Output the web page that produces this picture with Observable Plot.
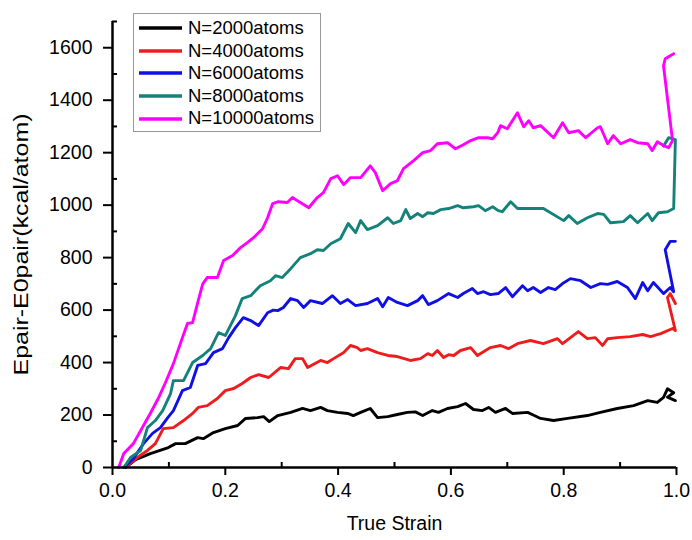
<!DOCTYPE html>
<html>
<head>
<meta charset="utf-8">
<script src="https://cdn.jsdelivr.net/npm/d3@7"></script>
<script src="https://cdn.jsdelivr.net/npm/@observablehq/plot@0.6"></script>
<style>
  html, body { margin: 0; padding: 0; background: #fff; }
  #wrap { position: relative; width: 692px; height: 540px; font-family: "Liberation Sans", Arial, sans-serif; }
  #legend { position: absolute; left: 133px; top: 13px; width: 188px; height: 119px; border: 1px solid #999; background: #fff; box-sizing: border-box; padding-top: 3px; }
  .row { display: flex; align-items: center; height: 22.6px; }
  .row svg { margin-left: 5px; margin-right: 6px; }
  .row span { font-size: 18.5px; color: #000; line-height: 1; }
</style>
</head>
<body>
<div id="wrap"><div id="legend"></div></div>
<script>
const seriesNames = ["N=2000atoms", "N=4000atoms", "N=6000atoms", "N=8000atoms", "N=10000atoms"];
const seriesColors = ["#000000", "#ee1c1c", "#1010e6", "#13837a", "#ff00ff"];

const n2000 = [[0.023,0],[0.041,30],[0.067,53],[0.099,76],[0.112,91],[0.129,91],[0.151,114],[0.161,110],[0.179,133],[0.200,148],[0.222,160],[0.236,187],[0.257,190],[0.268,194],[0.278,175],[0.293,198],[0.316,210],[0.337,225],[0.351,217],[0.369,229],[0.381,217],[0.399,210],[0.417,206],[0.427,198],[0.440,210],[0.457,225],[0.470,190],[0.488,194],[0.505,202],[0.523,210],[0.537,212],[0.550,198],[0.567,217],[0.578,210],[0.594,225],[0.612,232],[0.626,244],[0.640,221],[0.656,217],[0.667,229],[0.679,210],[0.697,225],[0.709,206],[0.736,210],[0.746,200],[0.759,187],[0.782,179],[0.807,187],[0.842,198],[0.865,210],[0.895,225],[0.924,236],[0.949,255],[0.966,248],[0.977,267],[0.984,300],[0.995,285],[0.984,268],[0.998,255]];

const n4000 = [[0.023,0],[0.044,38],[0.062,65],[0.076,91],[0.090,148],[0.108,152],[0.126,179],[0.142,206],[0.152,229],[0.168,236],[0.186,263],[0.200,293],[0.215,301],[0.230,320],[0.245,343],[0.259,354],[0.277,343],[0.298,381],[0.312,377],[0.324,415],[0.337,415],[0.346,381],[0.369,408],[0.381,400],[0.392,415],[0.410,438],[0.422,465],[0.434,457],[0.440,446],[0.452,453],[0.470,438],[0.488,427],[0.505,423],[0.528,408],[0.546,415],[0.559,434],[0.567,427],[0.576,446],[0.587,419],[0.596,430],[0.605,427],[0.617,446],[0.635,457],[0.647,427],[0.670,457],[0.688,465],[0.702,453],[0.718,472],[0.741,484],[0.764,472],[0.789,491],[0.798,472],[0.812,495],[0.826,518],[0.842,491],[0.856,495],[0.869,465],[0.878,491],[0.895,495],[0.918,499],[0.940,507],[0.954,499],[0.972,510],[0.993,530],[0.998,522],[0.984,648],[0.989,663],[0.998,625]];

const n6000 = [[0.020,0],[0.037,34],[0.055,91],[0.071,130],[0.085,152],[0.098,190],[0.108,217],[0.124,293],[0.138,305],[0.151,389],[0.165,396],[0.179,438],[0.195,453],[0.206,495],[0.218,533],[0.232,571],[0.245,560],[0.259,541],[0.275,590],[0.285,600],[0.293,598],[0.303,610],[0.316,644],[0.328,636],[0.339,610],[0.351,636],[0.372,625],[0.390,655],[0.404,625],[0.417,640],[0.431,617],[0.452,625],[0.470,644],[0.479,613],[0.489,648],[0.505,629],[0.523,617],[0.541,636],[0.550,655],[0.560,621],[0.576,636],[0.596,663],[0.612,648],[0.622,663],[0.638,682],[0.647,663],[0.658,670],[0.670,659],[0.684,663],[0.697,686],[0.709,651],[0.727,693],[0.736,674],[0.746,686],[0.759,667],[0.773,686],[0.785,678],[0.798,701],[0.812,720],[0.830,712],[0.848,686],[0.865,701],[0.878,698],[0.895,709],[0.913,686],[0.927,644],[0.940,705],[0.949,674],[0.959,705],[0.977,663],[0.989,686],[0.995,670],[0.980,830],[0.989,862],[0.998,862]];

const n8000 = [[0.020,0],[0.032,38],[0.050,65],[0.062,152],[0.076,179],[0.089,217],[0.103,282],[0.108,331],[0.126,331],[0.142,400],[0.160,427],[0.174,453],[0.188,514],[0.200,503],[0.218,579],[0.230,644],[0.245,655],[0.262,693],[0.280,712],[0.289,731],[0.301,724],[0.316,758],[0.333,800],[0.351,815],[0.363,830],[0.374,827],[0.387,853],[0.404,872],[0.418,930],[0.431,895],[0.440,941],[0.452,907],[0.470,922],[0.488,952],[0.498,930],[0.511,941],[0.520,983],[0.528,949],[0.541,968],[0.550,956],[0.559,971],[0.569,968],[0.582,983],[0.596,987],[0.612,998],[0.622,990],[0.640,994],[0.649,998],[0.661,979],[0.674,994],[0.684,979],[0.691,975],[0.706,1013],[0.718,987],[0.741,987],[0.764,987],[0.800,941],[0.809,960],[0.824,930],[0.842,952],[0.860,968],[0.871,965],[0.883,933],[0.906,937],[0.918,960],[0.931,933],[0.949,968],[0.957,941],[0.968,971],[0.984,975],[0.995,987],[0.998,1250],[0.986,1257],[0.977,1225]];

const n10000 = [[0.011,0],[0.020,53],[0.037,91],[0.055,160],[0.067,206],[0.082,267],[0.094,324],[0.108,396],[0.124,495],[0.133,549],[0.142,552],[0.152,636],[0.160,700],[0.168,724],[0.186,724],[0.197,789],[0.213,808],[0.227,838],[0.239,857],[0.250,876],[0.266,910],[0.275,952],[0.284,1006],[0.294,1013],[0.310,1010],[0.319,1029],[0.333,1010],[0.348,990],[0.363,1029],[0.374,1048],[0.387,1101],[0.399,1112],[0.410,1078],[0.422,1105],[0.440,1105],[0.457,1150],[0.466,1124],[0.479,1055],[0.493,1082],[0.505,1093],[0.516,1139],[0.534,1170],[0.550,1200],[0.564,1208],[0.576,1234],[0.594,1238],[0.608,1215],[0.622,1230],[0.635,1246],[0.649,1257],[0.665,1257],[0.674,1253],[0.683,1276],[0.688,1303],[0.700,1291],[0.718,1352],[0.729,1299],[0.738,1322],[0.746,1295],[0.759,1303],[0.782,1257],[0.798,1314],[0.809,1276],[0.826,1284],[0.839,1257],[0.860,1295],[0.865,1299],[0.878,1234],[0.888,1265],[0.901,1234],[0.918,1250],[0.931,1238],[0.949,1234],[0.957,1208],[0.966,1242],[0.977,1227],[0.986,1219],[0.993,1246],[0.977,1531],[0.980,1558],[0.995,1577]];

const majorX = [0, 0.2, 0.4, 0.6, 0.8, 1.0];
const minorX = [0.1, 0.3, 0.5, 0.7, 0.9];
const majorY = [0, 200, 400, 600, 800, 1000, 1200, 1400, 1600];
const minorY = [100, 300, 500, 700, 900, 1100, 1300, 1500, 1700];
const xLabel = "True Strain";
const yLabel = "Epair-E0pair(kcal/atom)";

const allSeries = [n2000, n4000, n6000, n8000, n10000];
const rows = allSeries.flatMap((s, i) => s.map(([x, y], j) => ({series: seriesNames[i], x, y, j})));

const font = "'Liberation Sans', Arial, sans-serif";

const chart = Plot.plot({
  width: 692,
  height: 540,
  marginLeft: 112,
  marginRight: 16,
  marginTop: 21,
  marginBottom: 73,
  style: {fontFamily: font, fontSize: "19.5px", color: "#000", background: "#fff"},
  x: {domain: [0, 1]},
  y: {domain: [0, 1700]},
  color: {domain: seriesNames, range: seriesColors},
  marks: [
    Plot.line(rows, {x: "x", y: "y", z: "series", stroke: "series", strokeWidth: 2.9, strokeLinejoin: "round", strokeLinecap: "round"}),
    Plot.axisX({ticks: majorX, tickSize: 8, strokeWidth: 2, tickPadding: 8, tickFormat: d3.format(".1f"), fontSize: 19.5, label: xLabel, labelAnchor: "center", labelOffset: 62, labelArrow: "none"}),
    Plot.axisX({ticks: minorX, tickSize: 5, strokeWidth: 2, dy: -5, tickFormat: () => "", label: null}),
    Plot.axisY({ticks: majorY, tickSize: 9, strokeWidth: 2, tickPadding: 11, tickFormat: d3.format("d"), fontSize: 19.5, label: yLabel, labelAnchor: "center", labelOffset: 99, labelArrow: "none"}),
    Plot.axisY({ticks: minorY, tickSize: 5, strokeWidth: 2, dx: 5, tickFormat: () => "", label: null}),
    Plot.ruleY([0], {stroke: "#000", strokeWidth: 2.5}),
    Plot.ruleX([0], {stroke: "#000", strokeWidth: 2.5})
  ]
});

const wrap = document.getElementById("wrap");
wrap.insertBefore(chart, wrap.firstChild);

// Size the y-axis title to the reference's length (text stays real text)
d3.select(chart).selectAll("text").each(function() {
  if (this.textContent === yLabel) {
    this.setAttribute("font-size", 21);
    this.style.fontSize = "21px";
    this.setAttribute("textLength", 262);
    this.setAttribute("lengthAdjust", "spacingAndGlyphs");
  }
});

const legend = d3.select("#legend");
seriesNames.forEach((name, i) => {
  const row = legend.append("div").attr("class", "row");
  const s = row.append("svg").attr("width", 43).attr("height", 8);
  s.append("line").attr("x1", 0).attr("x2", 43).attr("y1", 4).attr("y2", 4)
    .attr("stroke", seriesColors[i]).attr("stroke-width", 3.5);
  row.append("span").text(name);
});
</script>
</body>
</html>
